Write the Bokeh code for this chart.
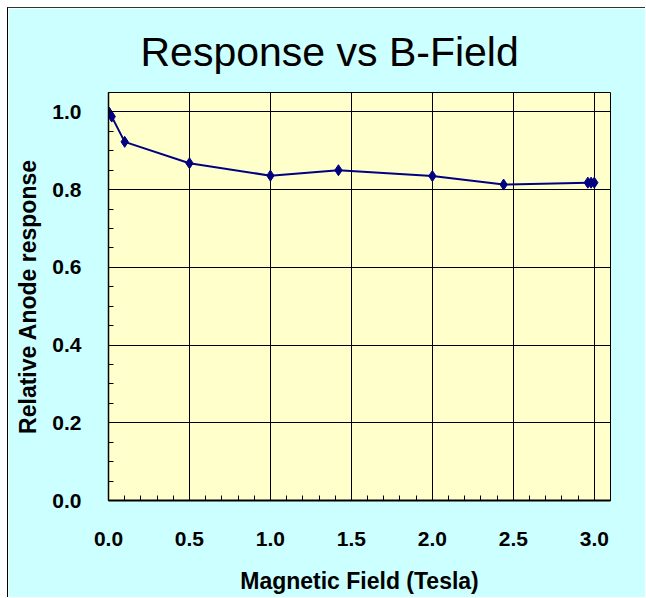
from bokeh.plotting import figure
from bokeh.models import Range1d, SingleIntervalTicker, PrintfTickFormatter, Title
from bokeh.embed import file_html
from bokeh.resources import INLINE

# Data
b_field = [0.0, 0.005, 0.02, 0.1, 0.5, 1.0, 1.42, 2.0, 2.44, 2.96, 2.98, 3.0]
response = [1.0, 0.997, 0.988, 0.923, 0.868, 0.836, 0.850, 0.835, 0.813, 0.818, 0.818, 0.818]

title_text = "Response vs B-Field"
x_title = "Magnetic Field (Tesla)"
y_title = "Relative Anode response"

FONT = "Liberation Sans"
BG = "#CCFFFF"
PLOT_BG = "#FFFFCC"
NAVY = "#000080"

p = figure(width=638, height=590, output_backend="svg", toolbar_location=None,
           x_range=Range1d(0, 3.1), y_range=Range1d(0, 1.05),
           min_border_left=100, min_border_right=36,
           min_border_top=84, min_border_bottom=98)
p.styles = {"margin-left": "7px", "margin-top": "7px",
            "border-left": "1px solid black", "border-top": "1px solid #333333"}

p.background_fill_color = PLOT_BG
p.border_fill_color = BG
p.outline_line_color = "black"
p.outline_line_width = 1

t = Title(text=title_text, align="left", offset=32, standoff=32, vertical_align="top",
          text_font=FONT, text_font_size="41px", text_font_style="normal",
          text_color="black")
p.add_layout(t, "above")

p.line(b_field, response, line_color=NAVY, line_width=2)
p.scatter(b_field, response, marker="diamond", size=11, fill_color=NAVY, line_color=NAVY)

# axes
p.xaxis.ticker = SingleIntervalTicker(interval=0.5, num_minor_ticks=5)
p.yaxis.ticker = SingleIntervalTicker(interval=0.2, num_minor_ticks=4)
for ax in (p.xaxis[0], p.yaxis[0]):
    ax.formatter = PrintfTickFormatter(format="%.1f")
    ax.major_tick_in = 0
    ax.major_tick_out = 0
    ax.minor_tick_in = 5
    ax.minor_tick_out = 0
    ax.minor_tick_line_color = "black"
    ax.axis_line_color = "black"
    ax.major_label_text_font = FONT
    ax.major_label_text_font_size = "21px"
    ax.major_label_text_font_style = "bold"
    ax.major_label_text_color = "black"
    ax.axis_label_text_font = FONT
    ax.axis_label_text_font_size = "23px"
    ax.axis_label_text_font_style = "bold"
    ax.axis_label_text_color = "black"

p.xaxis.major_label_standoff = 31
p.yaxis.major_label_standoff = 27
p.xaxis.axis_line_width = 2
p.yaxis.axis_line_width = 1.5
p.xaxis.axis_label = x_title
p.yaxis.axis_label = y_title
p.xaxis.axis_label_standoff = 19
p.yaxis.axis_label_standoff = 8

p.xgrid.grid_line_color = "black"
p.ygrid.grid_line_color = "black"
p.xgrid.grid_line_width = 1
p.ygrid.grid_line_width = 1

open("out.html", "w").write(file_html(p, INLINE))
